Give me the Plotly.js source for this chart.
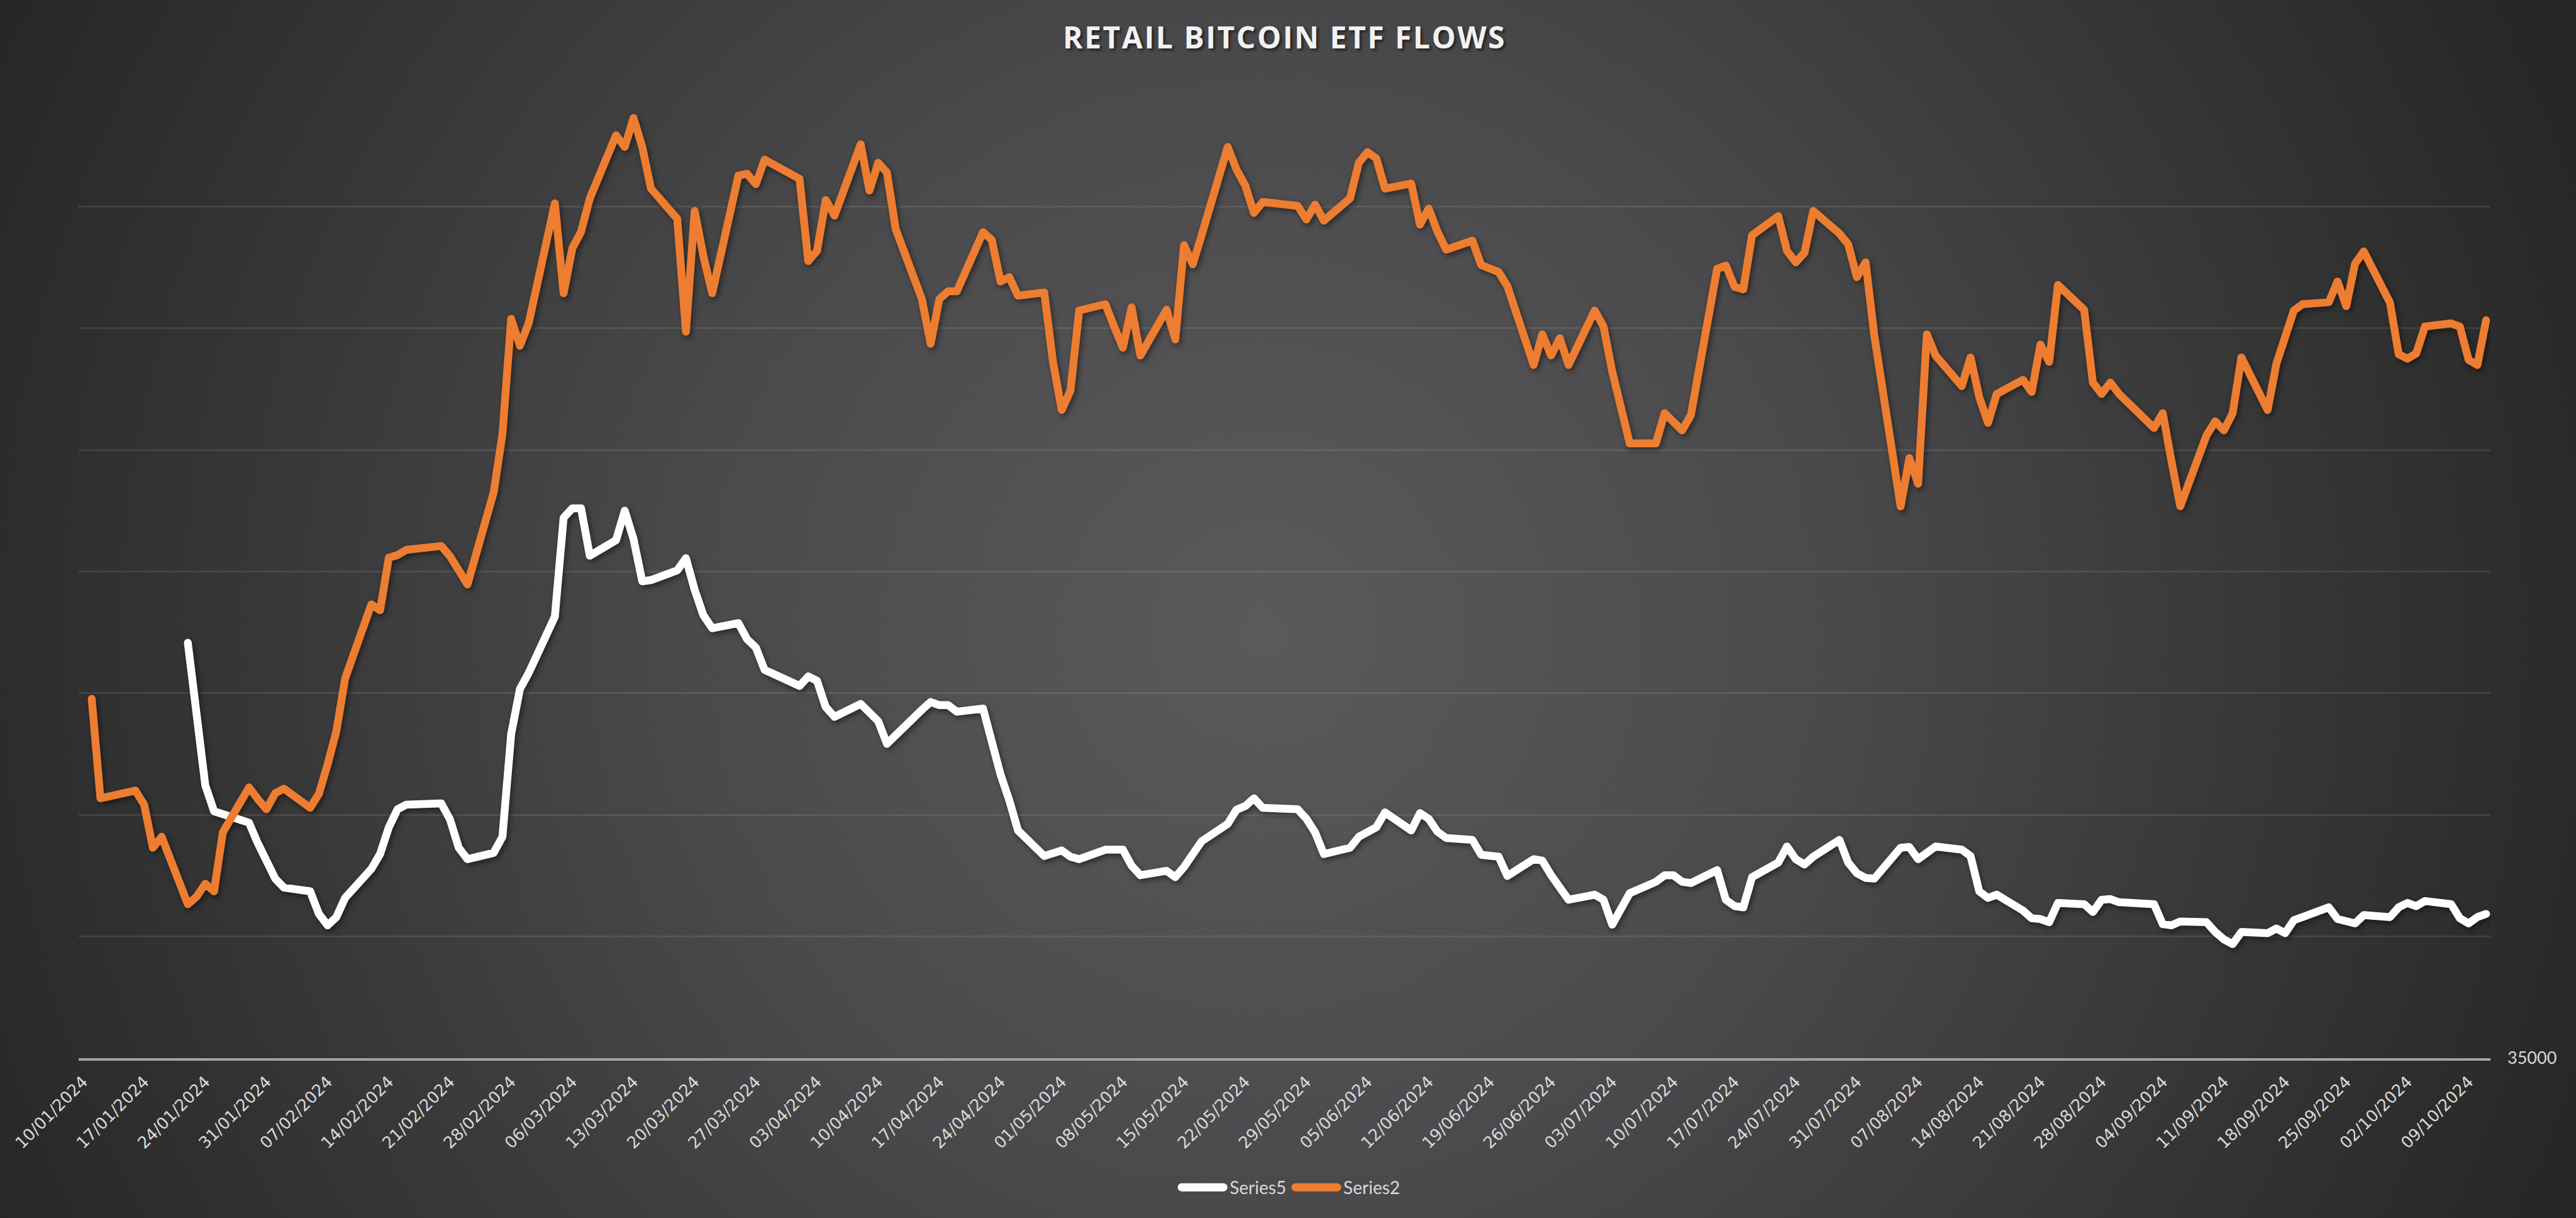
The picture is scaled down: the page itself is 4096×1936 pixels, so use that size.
<!DOCTYPE html>
<html>
<head>
<meta charset="utf-8">
<script src="https://cdn.plot.ly/plotly-3.0.1.min.js"></script>
<style>
  html, body { margin: 0; padding: 0; width: 4096px; height: 1936px; overflow: hidden;
    background: radial-gradient(circle at 49% 52%, #5b595b 0px, #4a494b 900px, #262626 2250px); }
  #chart { width: 4096px; height: 1936px; }
  #chart .scatterlayer .js-line { stroke-linecap: round; stroke-linejoin: round; }
  #chart .scatterlayer { filter: drop-shadow(3px 4px 4px rgba(0,0,0,0.45)); }
  #chart .gtitle { letter-spacing: 2.5px; }
</style>
</head>
<body>
<div id="chart"></div>
<script>
// ---- Series2 (orange) ----
const datesSeries2 = [
"2024-01-11","2024-01-12","2024-01-16","2024-01-17","2024-01-18","2024-01-19",
"2024-01-22","2024-01-23","2024-01-24","2024-01-25","2024-01-26",
"2024-01-29","2024-01-30","2024-01-31","2024-02-01","2024-02-02",
"2024-02-05","2024-02-06","2024-02-07","2024-02-08","2024-02-09",
"2024-02-12","2024-02-13","2024-02-14","2024-02-15","2024-02-16",
"2024-02-20","2024-02-21","2024-02-22","2024-02-23",
"2024-02-26","2024-02-27","2024-02-28","2024-02-29","2024-03-01",
"2024-03-04","2024-03-05","2024-03-06","2024-03-07","2024-03-08",
"2024-03-11","2024-03-12","2024-03-13","2024-03-14","2024-03-15",
"2024-03-18","2024-03-19","2024-03-20","2024-03-21","2024-03-22",
"2024-03-25","2024-03-26","2024-03-27","2024-03-28",
"2024-04-01","2024-04-02","2024-04-03","2024-04-04","2024-04-05",
"2024-04-08","2024-04-09","2024-04-10","2024-04-11","2024-04-12",
"2024-04-15","2024-04-16","2024-04-17","2024-04-18","2024-04-19",
"2024-04-22","2024-04-23","2024-04-24","2024-04-25","2024-04-26",
"2024-04-29","2024-04-30","2024-05-01","2024-05-02","2024-05-03",
"2024-05-06","2024-05-07","2024-05-08","2024-05-09","2024-05-10",
"2024-05-13","2024-05-14","2024-05-15","2024-05-16","2024-05-17",
"2024-05-20","2024-05-21","2024-05-22","2024-05-23","2024-05-24",
"2024-05-28","2024-05-29","2024-05-30","2024-05-31",
"2024-06-03","2024-06-04","2024-06-05","2024-06-06","2024-06-07",
"2024-06-10","2024-06-11","2024-06-12","2024-06-13","2024-06-14",
"2024-06-17","2024-06-18","2024-06-20","2024-06-21",
"2024-06-24","2024-06-25","2024-06-26","2024-06-27","2024-06-28",
"2024-07-01","2024-07-02","2024-07-03","2024-07-05",
"2024-07-08","2024-07-09","2024-07-10","2024-07-11","2024-07-12",
"2024-07-15","2024-07-16","2024-07-17","2024-07-18","2024-07-19",
"2024-07-22","2024-07-23","2024-07-24","2024-07-25","2024-07-26",
"2024-07-29","2024-07-30","2024-07-31","2024-08-01","2024-08-02",
"2024-08-05","2024-08-06","2024-08-07","2024-08-08","2024-08-09",
"2024-08-12","2024-08-13","2024-08-14","2024-08-15","2024-08-16",
"2024-08-19","2024-08-20","2024-08-21","2024-08-22","2024-08-23",
"2024-08-26","2024-08-27","2024-08-28","2024-08-29","2024-08-30",
"2024-09-03","2024-09-04","2024-09-05","2024-09-06",
"2024-09-09","2024-09-10","2024-09-11","2024-09-12","2024-09-13",
"2024-09-16","2024-09-17","2024-09-18","2024-09-19","2024-09-20",
"2024-09-23","2024-09-24","2024-09-25","2024-09-26","2024-09-27",
"2024-09-30","2024-10-01","2024-10-02","2024-10-03","2024-10-04",
"2024-10-07","2024-10-08","2024-10-09","2024-10-10","2024-10-11"
];
const valuesSeries2 = [
49770,45680,46000,45420,43650,44100,
41330,41640,42170,41860,44280,
46130,45650,45230,45890,46080,
45290,45870,47080,48450,50610,
53650,53410,55570,55680,55890,
56050,55630,55050,54470,
58260,60640,65390,64280,65200,
70130,66440,68290,68970,70340,
72930,72450,73640,72450,70740,
69500,64860,69820,67970,66440,
71270,71350,70920,71930,
71140,67760,68180,70270,69630,
72560,70660,71800,71400,69080,
66200,64360,66200,66520,66520,
68950,68630,66920,67100,66340,
66470,63620,61640,62430,65730,
65990,65070,64200,65860,63880,
65760,64540,68420,67630,68810,
72450,71530,70870,69740,70190,
70030,69470,70080,69420,
70340,71800,72240,71980,70740,
70950,69260,69920,68970,68230,
68600,67600,67310,66730,
63490,64750,63880,64590,63490,
65730,65070,63220,60270,
60270,61510,61160,60800,61430,
67440,67580,66700,66600,68820,
69610,68180,67710,68100,69820,
68890,68450,67100,67710,64670,
57680,59660,58610,64750,63880,
62620,63800,62170,61110,62300,
62880,62380,64330,63620,66780,
65760,62770,62300,62770,62300,
60900,61510,59530,57680,
60590,61170,60800,61510,63800,
61640,63540,64590,65730,65990,
66070,66920,65910,67650,68160,
66050,63930,63750,63960,65070,
65200,65070,63700,63490,65330
];

// ---- Series5 (white) ----
const datesSeries5 = [
"2024-01-22","2024-01-23","2024-01-24","2024-01-25","2024-01-26",
"2024-01-29","2024-01-30","2024-01-31","2024-02-01","2024-02-02",
"2024-02-05","2024-02-06","2024-02-07","2024-02-08","2024-02-09",
"2024-02-12","2024-02-13","2024-02-14","2024-02-15","2024-02-16",
"2024-02-20","2024-02-21","2024-02-22","2024-02-23",
"2024-02-26","2024-02-27","2024-02-28","2024-02-29","2024-03-01",
"2024-03-04","2024-03-05","2024-03-06","2024-03-07","2024-03-08",
"2024-03-11","2024-03-12","2024-03-13","2024-03-14","2024-03-15",
"2024-03-18","2024-03-19","2024-03-20","2024-03-21","2024-03-22",
"2024-03-25","2024-03-26","2024-03-27","2024-03-28",
"2024-04-01","2024-04-02","2024-04-03","2024-04-04","2024-04-05",
"2024-04-08","2024-04-09","2024-04-10","2024-04-11","2024-04-12",
"2024-04-15","2024-04-16","2024-04-17","2024-04-18","2024-04-19",
"2024-04-22","2024-04-23","2024-04-24","2024-04-25","2024-04-26",
"2024-04-29","2024-04-30","2024-05-01","2024-05-02","2024-05-03",
"2024-05-06","2024-05-07","2024-05-08","2024-05-09","2024-05-10",
"2024-05-13","2024-05-14","2024-05-15","2024-05-16","2024-05-17",
"2024-05-20","2024-05-21","2024-05-22","2024-05-23","2024-05-24",
"2024-05-28","2024-05-29","2024-05-30","2024-05-31",
"2024-06-03","2024-06-04","2024-06-05","2024-06-06","2024-06-07",
"2024-06-10","2024-06-11","2024-06-12","2024-06-13","2024-06-14",
"2024-06-17","2024-06-18","2024-06-20","2024-06-21",
"2024-06-24","2024-06-25","2024-06-26","2024-06-27","2024-06-28",
"2024-07-01","2024-07-02","2024-07-03","2024-07-05",
"2024-07-08","2024-07-09","2024-07-10","2024-07-11","2024-07-12",
"2024-07-15","2024-07-16","2024-07-17","2024-07-18","2024-07-19",
"2024-07-22","2024-07-23","2024-07-24","2024-07-25","2024-07-26",
"2024-07-29","2024-07-30","2024-07-31","2024-08-01","2024-08-02",
"2024-08-05","2024-08-06","2024-08-07","2024-08-08","2024-08-09",
"2024-08-12","2024-08-13","2024-08-14","2024-08-15","2024-08-16",
"2024-08-19","2024-08-20","2024-08-21","2024-08-22","2024-08-23",
"2024-08-26","2024-08-27","2024-08-28","2024-08-29","2024-08-30",
"2024-09-03","2024-09-04","2024-09-05","2024-09-06",
"2024-09-09","2024-09-10","2024-09-11","2024-09-12","2024-09-13",
"2024-09-16","2024-09-17","2024-09-18","2024-09-19","2024-09-20",
"2024-09-23","2024-09-24","2024-09-25","2024-09-26","2024-09-27",
"2024-09-30","2024-10-01","2024-10-02","2024-10-03","2024-10-04",
"2024-10-07","2024-10-08","2024-10-09","2024-10-10","2024-10-11"
];
const valuesSeries5 = [
52070,48850,46210,45150,45020,
44680,43840,43040,42380,42010,
41860,40930,40460,40800,41590,
42780,43390,44490,45230,45420,
45470,44810,43650,43180,
43440,44100,48320,50170,50830,
53150,57210,57600,57600,55650,
56290,57500,56340,54600,54650,
55050,55550,54250,53200,52670,
52880,52220,51880,50960,
50300,50690,50510,49430,49030,
49560,49160,48850,47920,48290,
49320,49640,49510,49510,49240,
49370,47980,46660,45600,44360,
43310,43440,43540,43280,43180,
43570,43570,43570,42910,42520,
42700,42440,42860,43360,43910,
44630,45210,45360,45680,45290,
45230,44840,44280,43390,
43650,44100,44340,44490,45100,
44360,45070,44840,44310,44050,
43970,43360,43280,42490,
43180,43120,42520,42070,41510,
41720,41510,40490,41780,
42250,42520,42520,42250,42200,
42730,41510,41250,41200,42440,
43040,43700,43180,42960,43280,
43970,43040,42600,42410,42380,
43650,43680,43180,43490,43700,
43570,43310,41860,41590,41720,
41070,40750,40720,40590,41380,
41330,41010,41510,41540,41410,
41330,40510,40460,40620,
40590,40190,39880,39690,40190,
40140,40330,40140,40670,40800,
41200,40720,40620,40540,40880,
40800,41200,41380,41250,41460,
41330,40750,40540,40800,40930
];

// ---- axes ----
const xRange = ["2024-01-09 12:00", "2024-10-11 12:00"];
const yTickVals = [35000,40000,45000,50000,55000,60000,65000,70000,75000];
const yTickText = ["35000","","","","","","","",""];

const traces = [
  { x: datesSeries5, y: valuesSeries5, name: "Series5", type: "scatter", mode: "lines",
    line: { color: "#ffffff", width: 12.5 } },
  { x: datesSeries2, y: valuesSeries2, name: "Series2", type: "scatter", mode: "lines",
    line: { color: "#ED7D31", width: 12.5 } }
];

const layout = {
  width: 4096, height: 1936,
  paper_bgcolor: "rgba(0,0,0,0)", plot_bgcolor: "rgba(0,0,0,0)",
  margin: { l: 125, r: 136, t: 135, b: 254, pad: 0 },
  title: { text: "RETAIL BITCOIN ETF FLOWS", x: 0.5, xanchor: "center", xref: "paper",
           y: 1 - 60/1936, yanchor: "middle", yref: "container",
           font: { family: "'Open Sans', Lato, sans-serif", size: 48, color: "#f2f2f2", weight: 700,
                   shadow: "3px 3px 4px rgba(0,0,0,0.55)" } },
  showlegend: true,
  legend: { orientation: "h", x: 0.502, xanchor: "center", y: -0.1328, yanchor: "middle",
            font: { family: "Lato, sans-serif", size: 28, color: "#d9d9d9" },
            itemwidth: 76, bgcolor: "rgba(0,0,0,0)", tracegroupgap: 0 },
  xaxis: {
    type: "date", range: xRange, automargin: false,
    tick0: "2024-01-10", dtick: 7 * 86400000, tickformat: "%d/%m/%Y",
    tickangle: -45, ticks: "", ticklabelstandoff: 8,
    tickfont: { family: "DejaVu Sans, sans-serif", size: 26, color: "#d9d9d9" },
    showgrid: false, zeroline: false,
    showline: true, linecolor: "#a3a3a3", linewidth: 4
  },
  yaxis: {
    range: [35000, 75000], automargin: false, side: "right",
    tickmode: "array", tickvals: yTickVals, ticktext: yTickText,
    ticks: "", ticklabelstandoff: 26,
    tickfont: { family: "Lato, sans-serif", size: 27, color: "#d9d9d9" },
    showgrid: true, gridcolor: "rgba(255,255,255,0.09)", gridwidth: 3,
    zeroline: false, showline: false
  }
};

function widenLegendSwatches() {
  document.querySelectorAll("#chart .legendlines path").forEach(function (p) {
    p.setAttribute("d", "M10,0h66");
    p.style.strokeWidth = "13px";
    p.style.strokeLinecap = "round";
  });
}

Plotly.newPlot("chart", traces, layout, { staticPlot: true, displayModeBar: false })
  .then(widenLegendSwatches);
</script>
</body>
</html>
